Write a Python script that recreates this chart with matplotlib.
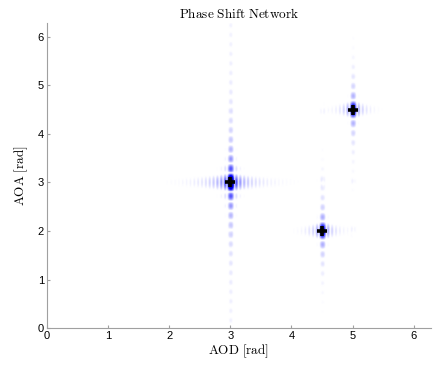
import numpy as np
import matplotlib.pyplot as plt
from matplotlib.colors import LinearSegmentedColormap

plt.rcParams['mathtext.fontset'] = 'cm'

# path estimates (AOD, AOA) and their relative gains
aod_peaks = [3.0, 4.5, 5.0]
aoa_peaks = [3.0, 2.0, 4.5]
gains = [1.0, 0.47, 0.45]
# array sizes seen in the sidelobe spacing
n_aod = 100
n_aoa = 32

ticks = [0, 1, 2, 3, 4, 5, 6]


def dirichlet(d, n):
    # normalised array factor magnitude of a uniform array
    s = np.sin(d / 2)
    out = np.ones_like(d)
    ok = np.abs(s) > 1e-9
    out[ok] = np.abs(np.sin(n * d[ok] / 2) / (n * s[ok]))
    return out


x = np.linspace(0, 2 * np.pi, 900)
y = np.linspace(0, 2 * np.pi, 700)
X, Y = np.meshgrid(x, y)
Z = np.zeros_like(X)
for a, b, g in zip(aod_peaks, aoa_peaks, gains):
    Z += g * dirichlet(X - a, n_aod) * dirichlet(Y - b, n_aoa)

cmap = LinearSegmentedColormap.from_list(
    'wb', [(0, '#ffffff'), (0.017, '#ffffff'), (0.045, '#e0e0ff'),
           (0.15, '#8080ff'), (0.33, '#0000ff'), (0.7, '#0000a0'), (1.0, '#000030')])

fig = plt.figure(figsize=(4.34, 3.67), dpi=100)
ax = fig.add_axes([0.108, 0.106, 0.885, 0.831])
ax.imshow(Z, origin='lower', extent=[0, 2 * np.pi, 0, 2 * np.pi],
          cmap=cmap, vmin=0, vmax=1.0, aspect='auto', interpolation='bilinear')
ax.plot(aod_peaks, aoa_peaks, '+', color='black', markersize=7.5, markeredgewidth=2.6)

ax.set_xlim(0, 2 * np.pi)
ax.set_ylim(0, 2 * np.pi)
ax.set_xticks(ticks)
ax.set_yticks(ticks)
for s in ['top', 'right']:
    ax.spines[s].set_visible(False)
for s in ['left', 'bottom']:
    ax.spines[s].set_color('#a0a0a0')
ax.tick_params(direction='in', length=2, color='#a0a0a0', labelsize=8, pad=2,
               labelfontfamily='Liberation Sans')

ax.set_title(r'$\mathrm{Phase\ Shift\ Network}$', fontsize=9.5, pad=4)
ax.set_xlabel(r'$\mathrm{AOD\ [rad]}$', fontsize=9.5, labelpad=1)
ax.set_ylabel(r'$\mathrm{AOA\ [rad]}$', fontsize=9.5, labelpad=6)

fig.savefig('out.png', dpi=100)
plt.close(fig)
